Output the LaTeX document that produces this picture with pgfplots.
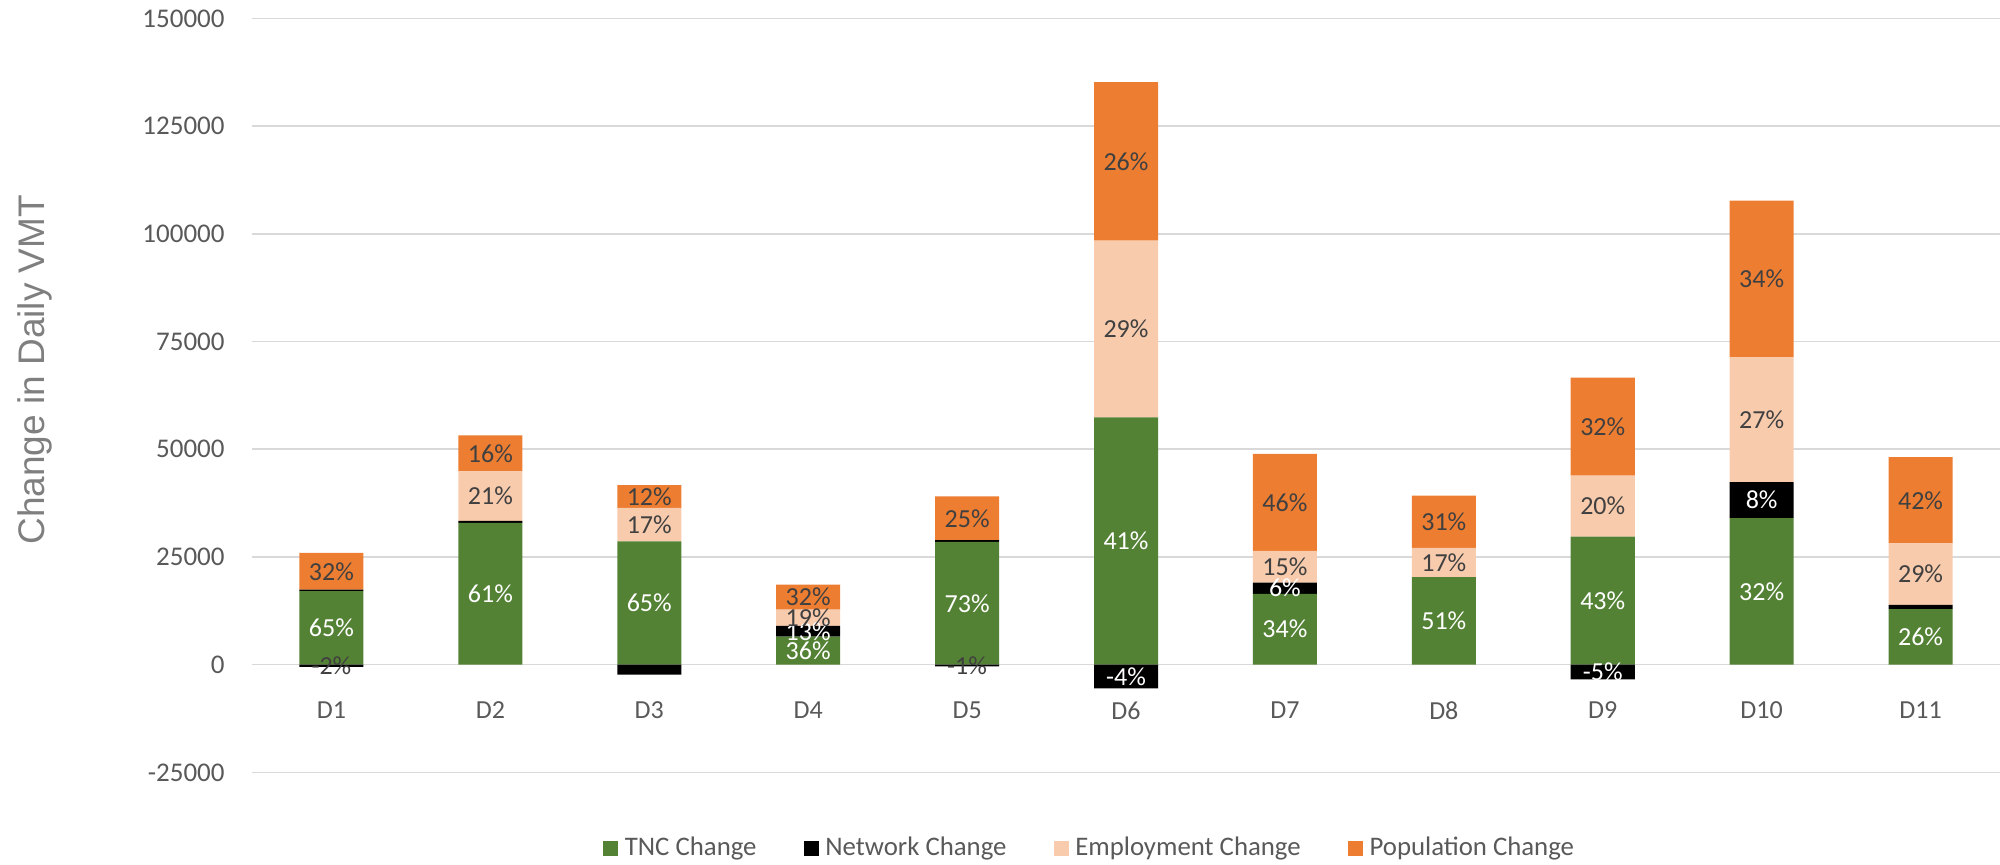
\documentclass[border=0pt]{standalone}
\usepackage{pgfplots}
\pgfplotsset{compat=1.18}
\usepackage{pgfplotstable}
\usepackage{fontspec}
\setmainfont{Carlito}
\newfontfamily\arialf{Liberation Sans}
\definecolor{tncgreen}{HTML}{548235}
\definecolor{netblack}{HTML}{000000}
\definecolor{emp}{HTML}{F8CBAD}
\definecolor{pop}{HTML}{ED7D31}
\definecolor{labdark}{HTML}{404040}
\definecolor{textgray}{HTML}{595959}
\definecolor{gridgray}{HTML}{D9D9D9}
\definecolor{ylabgray}{HTML}{7F7F7F}

\pgfplotstableread{
x nneg lnneg ntiny lntiny g lg npos lnpos e le p lp
1 0 {} -500 {-2\%} 17100 {65\%} 300 {} 0 {} 8550 {32\%}
2 0 {} 0 {} 32900 {61\%} 500 {} 11450 {21\%} 8350 {16\%}
3 -2300 {} 0 {} 28600 {65\%} 0 {} 7800 {17\%} 5250 {12\%}
4 0 {} 0 {} 6500 {36\%} 2500 {13\%} 3800 {19\%} 5800 {32\%}
5 0 {} -400 {-1\%} 28500 {73\%} 400 {} 0 {} 10150 {25\%}
6 -5500 {-4\%} 0 {} 57400 {41\%} 0 {} 41000 {29\%} 36800 {26\%}
7 0 {} 0 {} 16450 {34\%} 2600 {6\%} 7350 {15\%} 22500 {46\%}
8 0 {} 0 {} 20300 {51\%} 0 {} 6800 {17\%} 12150 {31\%}
9 -3400 {-5\%} 0 {} 29700 {43\%} 0 {} 14200 {20\%} 22700 {32\%}
10 0 {} 0 {} 34000 {32\%} 8350 {8\%} 29050 {27\%} 36300 {34\%}
11 0 {} 0 {} 12900 {26\%} 1000 {} 14250 {29\%} 20000 {42\%}
}\vmt

\pgfplotsset{
  frame/.style={
    at={(126pt,46.3pt)}, anchor=south west,
    width=874pt, height=377pt, scale only axis,
    xmin=0.5, xmax=11.5, ymin=-25000, ymax=150000,
  },
  lab/.style={
    only marks, mark=none, forget plot,
    nodes near coords={\pgfplotspointmeta},
    point meta=explicit symbolic,
    nodes near coords align={anchor=center},
    every node near coord/.append style={anchor=center, text=#1,
      font=\fontsize{13}{15}\selectfont, inner sep=0pt}
  },
  sq/.style={legend image code/.code={\fill[#1] (0pt,-3.5pt) rectangle (7pt,3.5pt);}}
}

\begin{document}
\begin{tikzpicture}
\useasboundingbox (0,0) rectangle (1000pt,432.5pt);
\begin{axis}[
  frame,
  ybar stacked, bar width=32pt,
  xtick={1,2,3,4,5,6,7,8,9,10,11},
  xticklabels={D1,D2,D3,D4,D5,D6,D7,D8,D9,D10,D11},
  ytick={-25000,0,25000,50000,75000,100000,125000,150000},
  yticklabels={-25000,0,25000,50000,75000,100000,125000,150000},
  ymajorgrids, grid style={draw=gridgray, line width=0.75pt},
  axis line style={draw=none},
  major tick length=0pt,
  scaled y ticks=false,
  yticklabel style={font=\fontsize{13.5}{16}\selectfont, text=textgray, inner sep=0pt, xshift=-13.5pt},
  xticklabel style={anchor=center, yshift=31pt, inner sep=0pt,
    font=\fontsize{13}{15}\selectfont, text=textgray},
  ylabel={Change in Daily VMT},
  ylabel style={at={(axis description cs:-0.124,0.534)}, anchor=center,
    font=\arialf\fontsize{18.5}{22}\selectfont, text=ylabgray},
  legend columns=4,
  legend cell align=left,
  legend style={at={(axis description cs:0.2006,-0.1003)}, anchor=west,
    draw=none, fill=none, inner sep=0pt, column sep=3.5pt,
    nodes={inner sep=0pt},
    /tikz/every even column/.append style={column sep=23.5pt},
    font=\fontsize{13.4}{16}\selectfont, text=textgray},
]
\addlegendimage{sq=tncgreen}
\addlegendentry{TNC Change}
\addlegendimage{sq=netblack}
\addlegendentry{Network Change}
\addlegendimage{sq=emp}
\addlegendentry{Employment Change}
\addlegendimage{sq=pop}
\addlegendentry{Population Change}

\addplot[fill=netblack, draw=none, forget plot] table[x=x, y=nneg]{\vmt};
\addplot[fill=netblack, draw=none, forget plot] table[x=x, y=ntiny]{\vmt};
\addplot[fill=tncgreen, draw=none, forget plot] table[x=x, y=g]{\vmt};
\addplot[fill=netblack, draw=none, forget plot] table[x=x, y=npos]{\vmt};
\addplot[fill=emp, draw=none, forget plot] table[x=x, y=e]{\vmt};
\addplot[fill=pop, draw=none, forget plot] table[x=x, y=p]{\vmt};
\end{axis}

\begin{axis}[frame, hide axis, clip=false]
\addplot[lab=white] table[x=x, y expr=\thisrow{nneg}/2, meta=lnneg]{\vmt};
\addplot[lab=labdark] table[x=x, y expr=\thisrow{ntiny}/2, meta=lntiny]{\vmt};
\addplot[lab=white] table[x=x, y expr=\thisrow{g}/2, meta=lg]{\vmt};
\addplot[lab=white] table[x=x, y expr=\thisrow{g}+\thisrow{npos}/2, meta=lnpos]{\vmt};
\addplot[lab=labdark] table[x=x, y expr=\thisrow{g}+\thisrow{npos}+\thisrow{e}/2, meta=le]{\vmt};
\addplot[lab=labdark] table[x=x, y expr=\thisrow{g}+\thisrow{npos}+\thisrow{e}+\thisrow{p}/2, meta=lp]{\vmt};
\end{axis}
\end{tikzpicture}
\end{document}
